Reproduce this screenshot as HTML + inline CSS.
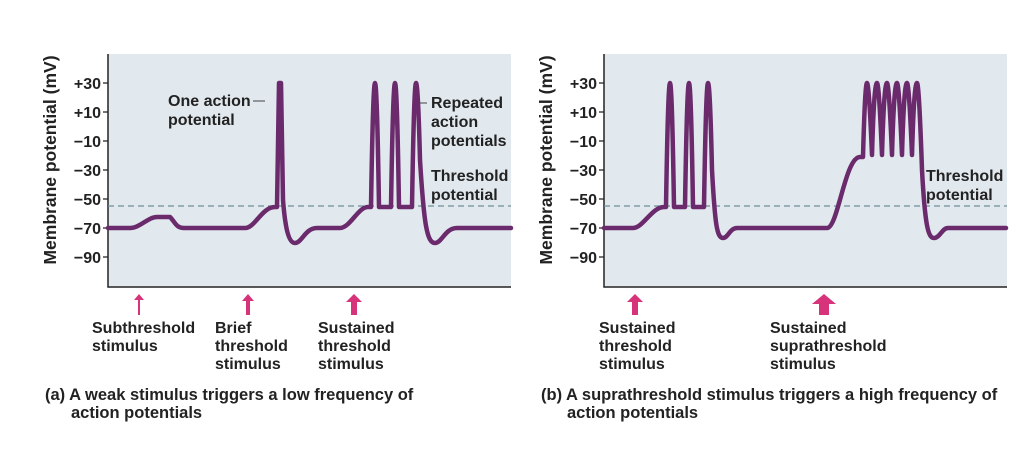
<!DOCTYPE html>
<html><head><style>
body{margin:0;background:#fff;width:1022px;height:462px;overflow:hidden}
svg text{font-family:"Liberation Sans",Arial,sans-serif;font-weight:bold;fill:#222}
</style></head><body>
<svg width="1022" height="462" viewBox="0 0 1022 462">
<rect x="108" y="54" width="403" height="233" fill="#e2e9ee"/>
<rect x="604" y="54" width="403" height="233" fill="#e2e9ee"/>
<path d="M108,54V287H511" fill="none" stroke="#222" stroke-width="1.5"/>
<path d="M604,54V287H1007" fill="none" stroke="#222" stroke-width="1.5"/>
<g stroke="#222" stroke-width="1.2">
<path d="M103,83h5M103,112h5M103,141h5M103,170h5M103,199h5M103,228h5M103,257h5"/>
<path d="M599,83h5M599,112h5M599,141h5M599,170h5M599,199h5M599,228h5M599,257h5"/>
</g>
<g font-size="16" text-anchor="end">
<text x="101" y="89">+30</text><text x="101" y="118">+10</text><text x="101" y="147">−10</text><text x="101" y="176">−30</text><text x="101" y="205">−50</text><text x="101" y="234">−70</text><text x="101" y="263">−90</text>
<text x="597" y="89">+30</text><text x="597" y="118">+10</text><text x="597" y="147">−10</text><text x="597" y="176">−30</text><text x="597" y="205">−50</text><text x="597" y="234">−70</text><text x="597" y="263">−90</text>
</g>
<text transform="translate(56,160) rotate(-90)" font-size="17.5" text-anchor="middle">Membrane potential (mV)</text>
<text transform="translate(552,160) rotate(-90)" font-size="17.5" text-anchor="middle">Membrane potential (mV)</text>
<path d="M108,206H511M604,206H1007" stroke="#6f8f99" stroke-width="1.3" stroke-dasharray="6,4"/>
<g fill="none" stroke="#6a2a6c" stroke-width="4.5" stroke-linejoin="round" stroke-linecap="round">
<path d="M108,228H130C140,228 148,217 157,217H170C175,222 176,228 184,228H245C255,228 262,207 275,207H277L279,83L281,83L283,200C285,225 288,243 295,243C302,243 305,228 317,228H340C350,228 358,207 368,207H371Q373,83 375,83Q377,83 379,207H391Q393,83 395,83Q397,83 399,207H412Q414,83 416,83Q418,83 420,160C424,225 427,243 435,243C442,243 445,228 457,228H511"/>
<path d="M604,228H633C643,228 652,207 664,207H666Q668,83 670,83Q672,83 674,207H685Q687,83 689,83Q691,83 693,207H704Q706,83 708,83Q710,83 712,170C715,225 717,238 723,238C728,238 730,228 737,228H827C838,228 845,157 860,157H863Q865,83 867,83Q869,83 872,155Q874,83 877,83Q879,83 882,155Q884,83 887,83Q889,83 892,155Q894,83 897,83Q899,83 902,155Q904,83 907,83Q909,83 912,155Q914,83 917,83Q919,83 922,170C925,225 928,238 934,238C940,238 942,228 948,228H1006"/>
</g>
<path d="M253,101H265" stroke="#444" stroke-width="1"/>
<path d="M420,103H427" stroke="#444" stroke-width="1"/>
<g font-size="16">
<text x="168" y="106">One action</text><text x="168" y="125">potential</text>
<text x="431" y="108">Repeated</text><text x="431" y="127">action</text><text x="431" y="146">potentials</text>
<text x="431" y="181">Threshold</text><text x="431" y="200">potential</text>
<text x="926" y="181">Threshold</text><text x="926" y="200">potential</text>
</g>
<g fill="#d6337a">
<path d="M139,294l-5,6h4v15h2v-15h4z"/>
<path d="M248,294l-6,7h4v14h4v-14h4z"/>
<path d="M354,294l-8,8h5v13h6v-13h5z"/>
<path d="M635,294l-8,8h5v13h6v-13h5z"/>
<path d="M824,294l-12,10h7v11h10v-11h7z"/>
</g>
<g font-size="16">
<text x="92" y="333">Subthreshold</text><text x="92" y="351">stimulus</text>
<text x="215" y="333">Brief</text><text x="215" y="351">threshold</text><text x="215" y="369">stimulus</text>
<text x="318" y="333">Sustained</text><text x="318" y="351">threshold</text><text x="318" y="369">stimulus</text>
<text x="599" y="333">Sustained</text><text x="599" y="351">threshold</text><text x="599" y="369">stimulus</text>
<text x="770" y="333">Sustained</text><text x="770" y="351">suprathreshold</text><text x="770" y="369">stimulus</text>
</g>
<g font-size="16.5">
<text x="45" y="400">(a) A weak stimulus triggers a low frequency of</text><text x="71" y="418">action potentials</text>
<text x="541" y="400">(b) A suprathreshold stimulus triggers a high frequency of</text><text x="567" y="418">action potentials</text>
</g>
</svg>
</body></html>
